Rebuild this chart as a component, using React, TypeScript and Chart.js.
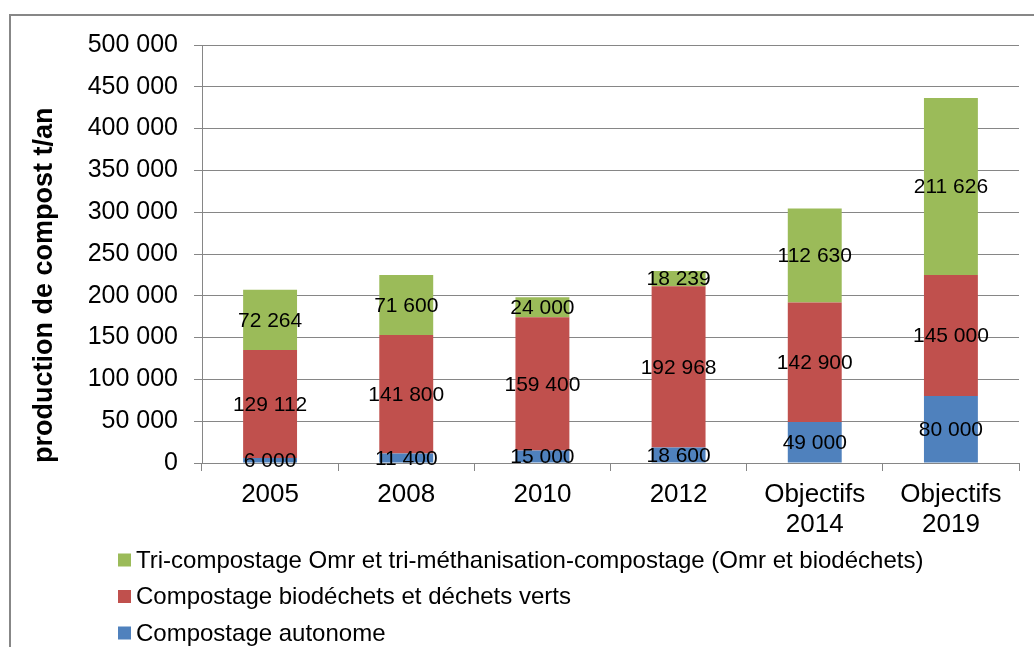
import React, { useEffect, useRef } from 'react';
import { Chart, registerables } from 'chart.js';

Chart.register(...registerables);

const categories: (string | string[])[] = ['2005', '2008', '2010', '2012', ['Objectifs', '2014'], ['Objectifs', '2019']];
const seriesNames = [
  'Compostage autonome',
  'Compostage biodéchets et déchets verts',
  'Tri-compostage Omr et tri-méthanisation-compostage (Omr et biodéchets)',
];
const autonome = [6000, 11400, 15000, 18600, 49000, 80000];
const biodechets = [129112, 141800, 159400, 192968, 142900, 145000];
const triCompostage = [72264, 71600, 24000, 18239, 112630, 211626];
const seriesColors = ['#4F81BD', '#C0504D', '#9BBB59'];
const yMin = 0;
const yMax = 500000;
const yStep = 50000;
const yTitle = 'production de compost t/an';

const FONT = '"Liberation Sans", Arial, sans-serif';
const GRID = '#868686';

const fmt = (v: number) => String(Math.round(v)).replace(/\B(?=(\d{3})+(?!\d))/g, ' ');

const framePlugin = {
  id: 'frame',
  beforeDraw(chart: any) {
    const ctx = chart.ctx;
    ctx.save();
    ctx.strokeStyle = '#878787';
    ctx.lineWidth = 2;
    ctx.beginPath();
    ctx.moveTo(10, chart.height + 2);
    ctx.lineTo(10, 15);
    ctx.lineTo(chart.width + 2, 15);
    ctx.stroke();
    ctx.restore();
  },
};

const dataLabelPlugin = {
  id: 'segLabels',
  afterDatasetsDraw(chart: any) {
    const ctx = chart.ctx;
    ctx.save();
    ctx.font = `21px ${FONT}`;
    ctx.fillStyle = '#000';
    ctx.textAlign = 'center';
    ctx.textBaseline = 'middle';
    chart.data.datasets.forEach((ds: any, i: number) => {
      const meta = chart.getDatasetMeta(i);
      meta.data.forEach((el: any, j: number) => {
        const v = ds.data[j];
        const y = (el.y + el.base) / 2;
        ctx.fillText(fmt(v), el.x, y + 1);
      });
    });
    ctx.restore();
  },
};

const legendPlugin = {
  id: 'customLegend',
  afterDraw(chart: any) {
    const ctx = chart.ctx;
    const area = chart.chartArea;
    ctx.save();
    ctx.font = `24px ${FONT}`;
    ctx.textBaseline = 'middle';
    ctx.textAlign = 'left';
    const ds = chart.data.datasets.slice().reverse();
    ds.forEach((d: any, k: number) => {
      const cy = area.bottom + 97 + k * 36.5;
      ctx.fillStyle = d.backgroundColor;
      ctx.fillRect(118, cy - 6.5, 13, 13);
      ctx.fillStyle = '#000';
      ctx.fillText(d.label, 136, cy + 1);
    });
    ctx.restore();
  },
};

export default function App() {
  const ref = useRef<HTMLCanvasElement | null>(null);
  useEffect(() => {
    if (!ref.current) return;
    const chart = new Chart(ref.current, {
      type: 'bar',
      data: {
        labels: categories as any,
        datasets: [
          { label: seriesNames[0], data: autonome, backgroundColor: seriesColors[0] },
          { label: seriesNames[1], data: biodechets, backgroundColor: seriesColors[1] },
          { label: seriesNames[2], data: triCompostage, backgroundColor: seriesColors[2] },
        ],
      },
      options: {
        animation: false,
        responsive: false,
        maintainAspectRatio: false,
        layout: { padding: { left: 0, right: 15, top: 45, bottom: 109 } },
        datasets: { bar: { barPercentage: 0.396, categoryPercentage: 1, borderWidth: 0 } },
        plugins: {
          legend: { display: false },
          tooltip: { enabled: false },
        },
        scales: {
          x: {
            stacked: true,
            afterFit: (s: any) => { s.height = 75; },
            grid: { display: true, drawOnChartArea: false, drawTicks: true, tickLength: 8, color: GRID, offset: true },
            border: { display: true, color: GRID, width: 1 },
            ticks: { color: '#000', font: { family: FONT, size: 26, lineHeight: 1.15 }, padding: 9, maxRotation: 0, autoSkip: false },
          },
          y: {
            stacked: true,
            min: yMin,
            max: yMax,
            afterFit: (s: any) => { s.width = 202; },
            grid: { color: GRID, drawTicks: true, tickLength: 8 },
            border: { display: true, color: GRID, width: 1 },
            ticks: {
              stepSize: yStep,
              color: '#000',
              font: { family: FONT, size: 25 },
              padding: 16,
              callback: (v: any) => fmt(Number(v)),
            },
            title: {
              display: true,
              text: yTitle,
              align: 'start',
              color: '#000',
              font: { family: FONT, size: 27, weight: 'bold' },
              padding: { top: 28, bottom: 0 },
            },
          },
        },
      },
      plugins: [framePlugin, dataLabelPlugin, legendPlugin],
    } as any);
    return () => chart.destroy();
  }, []);
  return (
    <div style={{ position: 'fixed', left: 0, top: 0, width: 1034, height: 647, background: '#fff' }}>
      <canvas ref={ref} width={1034} height={647} style={{ display: 'block' }} />
    </div>
  );
}
